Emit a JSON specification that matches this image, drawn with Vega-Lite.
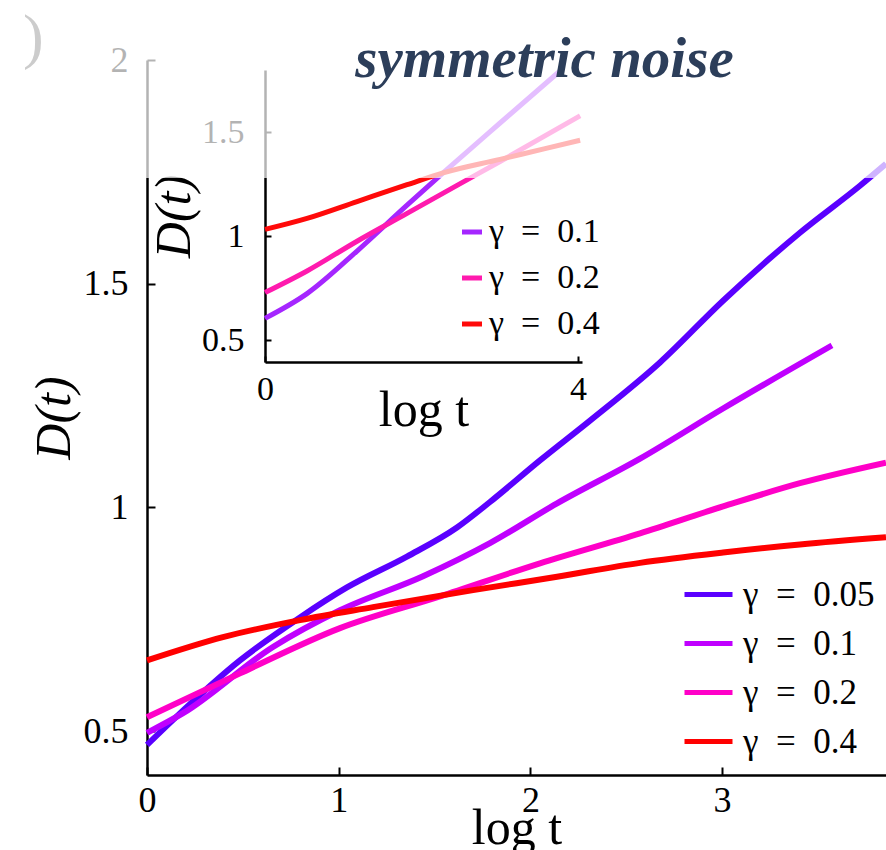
{
  "$schema": "https://vega.github.io/schema/vega-lite/v6.json",
  "width": 739,
  "height": 715,
  "autosize": {"type": "none"},
  "padding": {"left": 147, "top": 60, "right": 0, "bottom": 75},
  "background": "white",
  "config": {"view": {"stroke": null}},
  "title": {
    "text": "symmetric noise",
    "font": "Liberation Serif",
    "fontSize": 57,
    "fontWeight": "bold",
    "fontStyle": "italic",
    "color": "#2c3e5a",
    "anchor": "middle",
    "frame": "group",
    "baseline": "alphabetic",
    "offset": 0,
    "dx": 28,
    "dy": 147
  },
  "datasets": {
    "main": [
      {"g": "γ = 0.05", "x": 0, "y": 0.469},
      {"g": "γ = 0.05", "x": 0.136, "y": 0.525},
      {"g": "γ = 0.05", "x": 0.485, "y": 0.658},
      {"g": "γ = 0.05", "x": 0.798, "y": 0.754},
      {"g": "γ = 0.05", "x": 1.043, "y": 0.821},
      {"g": "γ = 0.05", "x": 1.356, "y": 0.89},
      {"g": "γ = 0.05", "x": 1.617, "y": 0.955},
      {"g": "γ = 0.05", "x": 1.789, "y": 1.012},
      {"g": "γ = 0.05", "x": 2.05, "y": 1.105},
      {"g": "γ = 0.05", "x": 2.311, "y": 1.194},
      {"g": "γ = 0.05", "x": 2.676, "y": 1.324},
      {"g": "γ = 0.05", "x": 3.005, "y": 1.462},
      {"g": "γ = 0.05", "x": 3.406, "y": 1.614},
      {"g": "γ = 0.05", "x": 3.719, "y": 1.719},
      {"g": "γ = 0.05", "x": 3.855, "y": 1.768},
      {"g": "γ = 0.1", "x": 0, "y": 0.496},
      {"g": "γ = 0.1", "x": 0.188, "y": 0.54},
      {"g": "γ = 0.1", "x": 0.657, "y": 0.688},
      {"g": "γ = 0.1", "x": 1.007, "y": 0.77},
      {"g": "γ = 0.1", "x": 1.44, "y": 0.846},
      {"g": "γ = 0.1", "x": 1.789, "y": 0.92},
      {"g": "γ = 0.1", "x": 2.139, "y": 1.009},
      {"g": "γ = 0.1", "x": 2.572, "y": 1.109},
      {"g": "γ = 0.1", "x": 3.005, "y": 1.221},
      {"g": "γ = 0.1", "x": 3.573, "y": 1.362},
      {"g": "γ = 0.2", "x": 0, "y": 0.531},
      {"g": "γ = 0.2", "x": 0.485, "y": 0.629},
      {"g": "γ = 0.2", "x": 1.007, "y": 0.73},
      {"g": "γ = 0.2", "x": 1.528, "y": 0.801},
      {"g": "γ = 0.2", "x": 2.05, "y": 0.875},
      {"g": "γ = 0.2", "x": 2.572, "y": 0.942},
      {"g": "γ = 0.2", "x": 3.005, "y": 1.002},
      {"g": "γ = 0.2", "x": 3.406, "y": 1.054},
      {"g": "γ = 0.2", "x": 3.855, "y": 1.1},
      {"g": "γ = 0.4", "x": 0, "y": 0.658},
      {"g": "γ = 0.4", "x": 0.396, "y": 0.71},
      {"g": "γ = 0.4", "x": 0.798, "y": 0.748},
      {"g": "γ = 0.4", "x": 1.179, "y": 0.777},
      {"g": "γ = 0.4", "x": 1.701, "y": 0.815},
      {"g": "γ = 0.4", "x": 2.139, "y": 0.845},
      {"g": "γ = 0.4", "x": 2.572, "y": 0.876},
      {"g": "γ = 0.4", "x": 3.005, "y": 0.899},
      {"g": "γ = 0.4", "x": 3.406, "y": 0.917},
      {"g": "γ = 0.4", "x": 3.855, "y": 0.933}
    ],
    "inset": [
      {"g": "γ = 0.1", "x": 0, "y": 0.605},
      {"g": "γ = 0.1", "x": 0.537, "y": 0.724},
      {"g": "γ = 0.1", "x": 1.176, "y": 0.929},
      {"g": "γ = 0.1", "x": 1.815, "y": 1.15},
      {"g": "γ = 0.1", "x": 2.275, "y": 1.305},
      {"g": "γ = 0.1", "x": 3.003, "y": 1.545},
      {"g": "γ = 0.1", "x": 3.783, "y": 1.8},
      {"g": "γ = 0.2", "x": 0, "y": 0.729},
      {"g": "γ = 0.2", "x": 0.537, "y": 0.833},
      {"g": "γ = 0.2", "x": 1.176, "y": 0.976},
      {"g": "γ = 0.2", "x": 1.815, "y": 1.11},
      {"g": "γ = 0.2", "x": 2.454, "y": 1.245},
      {"g": "γ = 0.2", "x": 3.003, "y": 1.36},
      {"g": "γ = 0.2", "x": 4.026, "y": 1.58},
      {"g": "γ = 0.4", "x": 0, "y": 1.033},
      {"g": "γ = 0.4", "x": 0.537, "y": 1.086},
      {"g": "γ = 0.4", "x": 1.176, "y": 1.167},
      {"g": "γ = 0.4", "x": 1.815, "y": 1.248},
      {"g": "γ = 0.4", "x": 2.275, "y": 1.305},
      {"g": "γ = 0.4", "x": 3.003, "y": 1.37},
      {"g": "γ = 0.4", "x": 3.578, "y": 1.422},
      {"g": "γ = 0.4", "x": 4.026, "y": 1.462}
    ]
  },
  "layer": [
    {
      "data": {"name": "main"},
      "mark": {"type": "line", "strokeWidth": 6, "interpolate": "monotone"},
      "encoding": {
        "x": {
          "field": "x", "type": "quantitative",
          "scale": {"domain": [0, 3.855], "nice": false, "zero": false},
          "axis": {
            "values": [0, 1, 2, 3], "title": "log t", "grid": false,
            "tickSize": -8, "tickWidth": 2, "tickColor": "black",
            "domainColor": "black", "domainWidth": 2.5,
            "labelFont": "Liberation Serif", "labelFontSize": 36, "labelColor": "black",
            "labelPadding": 16, "labelFlush": false, "labelOverlap": false,
            "titleFont": "Liberation Serif", "titleFontSize": 50, "titleFontWeight": "normal",
            "titleColor": "black", "titlePadding": -15
          }
        },
        "y": {
          "field": "y", "type": "quantitative",
          "scale": {"domain": [0.4018, 2.0], "nice": false, "zero": false},
          "axis": {
            "values": [0.5, 1, 1.5, 2], "labelExpr": "datum.value", "title": "D(t)", "grid": false,
            "tickSize": -8, "tickWidth": 2, "tickColor": "black",
            "domainColor": "black", "domainWidth": 2.5,
            "labelFont": "Liberation Serif", "labelFontSize": 36, "labelColor": "black",
            "labelPadding": 27, "labelFlush": false, "labelOverlap": false,
            "titleFont": "Liberation Serif", "titleFontSize": 50, "titleFontWeight": "normal",
            "titleFontStyle": "italic", "titleColor": "black", "titlePadding": 4
          }
        },
        "color": {
          "field": "g", "type": "nominal",
          "scale": {"domain": ["γ = 0.05", "γ = 0.1", "γ = 0.2", "γ = 0.4"], "range": ["#5a00ff", "#c000ff", "#ff00c8", "#ff0000"]},
          "legend": {
            "orient": "none", "legendX": 535, "legendY": 508, "title": null,
            "symbolType": "stroke", "symbolStrokeWidth": 5, "symbolSize": 2304,
            "labelExpr": "replace(replace(datum.label, ' =', '\u2002='), '= ', '=\u2002')",
            "labelFont": "Liberation Serif", "labelFontSize": 35, "labelColor": "black",
            "labelOffset": 8, "rowPadding": 4, "padding": 0
          }
        }
      }
    },
    {
      "layer": [
        {
          "data": {"name": "inset"},
          "mark": {"type": "line", "strokeWidth": 5, "interpolate": "monotone"},
          "encoding": {
            "x": {
              "field": "x", "type": "quantitative",
              "scale": {"domain": [0, 4.05], "range": [118, 435], "nice": false, "zero": false},
              "axis": {
                "orient": "bottom", "offset": -413,
                "values": [0, 4], "labelExpr": "datum.value", "title": "log t", "grid": false,
                "tickSize": -6, "tickWidth": 2, "tickColor": "black",
                "domainColor": "black", "domainWidth": 2.5,
                "labelFont": "Liberation Serif", "labelFontSize": 34, "labelColor": "black",
                "labelPadding": 16, "labelFlush": false, "labelOverlap": false,
                "titleFont": "Liberation Serif", "titleFontSize": 50, "titleFontWeight": "normal",
                "titleColor": "black", "titlePadding": -21
              }
            },
            "y": {
              "field": "y", "type": "quantitative",
              "scale": {"domain": [0.395, 1.8], "range": [302, 10], "nice": false, "zero": false},
              "axis": {
                "orient": "left", "offset": -118,
                "values": [0.5, 1, 1.5], "labelExpr": "datum.value", "title": "D(t)", "grid": false,
                "tickSize": -6, "tickWidth": 2, "tickColor": "black",
                "domainColor": "black", "domainWidth": 2.5,
                "labelFont": "Liberation Serif", "labelFontSize": 34, "labelColor": "black",
                "labelPadding": 27, "labelFlush": false, "labelOverlap": false,
                "titleFont": "Liberation Serif", "titleFontSize": 50, "titleFontWeight": "normal",
                "titleFontStyle": "italic", "titleColor": "black", "titlePadding": 2
              }
            },
            "color": {
              "field": "g", "type": "nominal",
              "scale": {"domain": ["γ = 0.1", "γ = 0.2", "γ = 0.4"], "range": ["#a526ff", "#ff1aae", "#ff0a0a"]},
              "legend": {
                "orient": "none", "legendX": 308, "legendY": 155, "title": null,
                "symbolType": "stroke", "symbolStrokeWidth": 5, "symbolSize": 400,
                "labelExpr": "replace(replace(datum.label, ' =', '\u2002='), '= ', '=\u2002')",
                "labelFont": "Liberation Serif", "labelFontSize": 34, "labelColor": "black",
                "labelOffset": 0, "rowPadding": 12, "padding": 0
              }
            }
          }
        },
        {
          "data": {"values": [{"label": ")"}]},
          "mark": {"type": "text", "font": "Liberation Serif", "fontSize": 62, "color": "#555555", "baseline": "middle", "align": "center"},
          "encoding": {
            "x": {"datum": -2.96, "type": "quantitative"},
            "y": {"datum": 1.954, "type": "quantitative"},
            "text": {"field": "label"}
          }
        },
        {
          "data": {"values": [{}]},
          "mark": {"type": "rect", "fill": "white", "opacity": 0.7},
          "encoding": {
            "x": {"datum": -3.5, "type": "quantitative"},
            "x2": {"datum": 8.2},
            "y": {"datum": 1.2803, "type": "quantitative"},
            "y2": {"datum": 2.2}
          }
        }
      ]
    }
  ],
  "resolve": {"scale": {"x": "independent", "y": "independent", "color": "independent"}}
}
